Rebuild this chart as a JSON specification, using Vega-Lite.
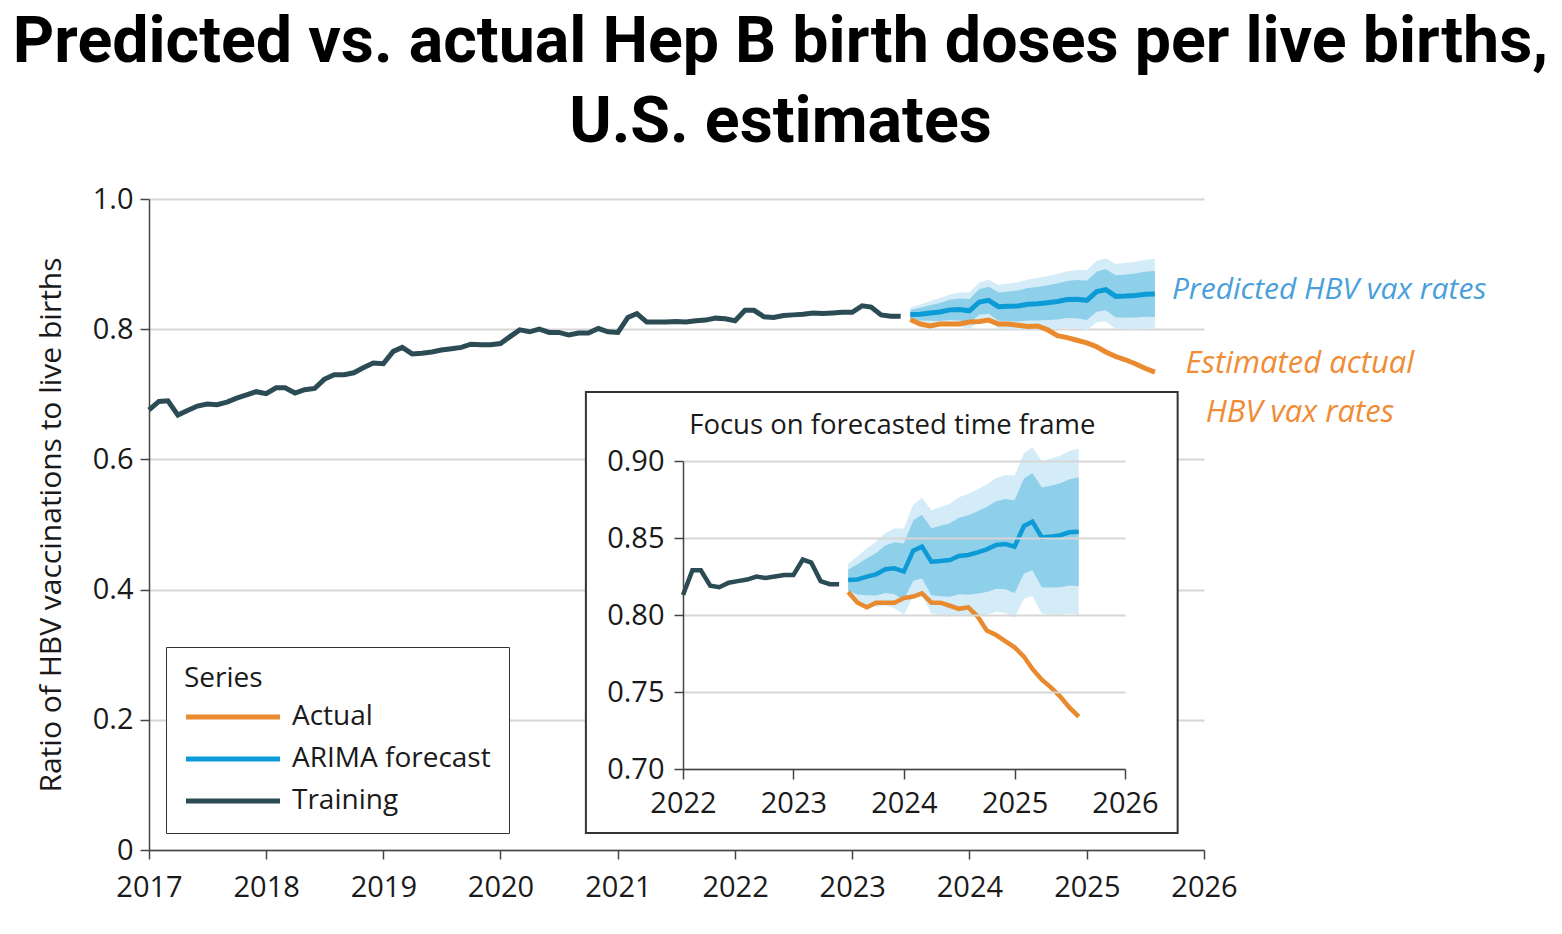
{
  "$schema": "https://vega.github.io/schema/vega-lite/v6.json",
  "width": 1055,
  "height": 651,
  "autosize": {"type": "none"},
  "padding": {"left": 149, "top": 199, "right": 358, "bottom": 84},
  "background": "white",
  "title": {
    "text": ["Predicted vs. actual Hep B birth doses per live births,", "U.S. estimates"],
    "font": "Roboto", "fontSize": 64.5, "fontWeight": "bold", "color": "#000000",
    "anchor": "middle", "frame": "group", "dx": 104, "offset": 30, "lineHeight": 80
  },
  "config": {
    "view": {"stroke": null},
    "font": "Open Sans",
    "axis": {
      "labelFont": "Open Sans", "labelFontSize": 29, "labelColor": "#1a1a1a",
      "titleFont": "Open Sans", "titleFontSize": 30, "titleFontWeight": "normal", "titleColor": "#1a1a1a",
      "domainColor": "#444444", "domainWidth": 1.5, "tickColor": "#444444", "tickWidth": 1.5, "tickSize": 9,
      "gridColor": "#d6d6d6", "gridWidth": 2
    }
  },
  "datasets": {
    "hbv": [
      {"date": "2017-01-01", "series": "Training", "value": 0.676},
      {"date": "2017-02-01", "series": "Training", "value": 0.689},
      {"date": "2017-03-01", "series": "Training", "value": 0.690},
      {"date": "2017-04-01", "series": "Training", "value": 0.668},
      {"date": "2017-05-01", "series": "Training", "value": 0.675},
      {"date": "2017-06-01", "series": "Training", "value": 0.682},
      {"date": "2017-07-01", "series": "Training", "value": 0.685},
      {"date": "2017-08-01", "series": "Training", "value": 0.684},
      {"date": "2017-09-01", "series": "Training", "value": 0.688},
      {"date": "2017-10-01", "series": "Training", "value": 0.694},
      {"date": "2017-11-01", "series": "Training", "value": 0.699},
      {"date": "2017-12-01", "series": "Training", "value": 0.704},
      {"date": "2018-01-01", "series": "Training", "value": 0.701},
      {"date": "2018-02-01", "series": "Training", "value": 0.710},
      {"date": "2018-03-01", "series": "Training", "value": 0.710},
      {"date": "2018-04-01", "series": "Training", "value": 0.702},
      {"date": "2018-05-01", "series": "Training", "value": 0.707},
      {"date": "2018-06-01", "series": "Training", "value": 0.709},
      {"date": "2018-07-01", "series": "Training", "value": 0.723},
      {"date": "2018-08-01", "series": "Training", "value": 0.730},
      {"date": "2018-09-01", "series": "Training", "value": 0.730},
      {"date": "2018-10-01", "series": "Training", "value": 0.733},
      {"date": "2018-11-01", "series": "Training", "value": 0.741},
      {"date": "2018-12-01", "series": "Training", "value": 0.748},
      {"date": "2019-01-01", "series": "Training", "value": 0.747},
      {"date": "2019-02-01", "series": "Training", "value": 0.766},
      {"date": "2019-03-01", "series": "Training", "value": 0.772},
      {"date": "2019-04-01", "series": "Training", "value": 0.762},
      {"date": "2019-05-01", "series": "Training", "value": 0.763},
      {"date": "2019-06-01", "series": "Training", "value": 0.765},
      {"date": "2019-07-01", "series": "Training", "value": 0.768},
      {"date": "2019-08-01", "series": "Training", "value": 0.770},
      {"date": "2019-09-01", "series": "Training", "value": 0.772},
      {"date": "2019-10-01", "series": "Training", "value": 0.777},
      {"date": "2019-11-01", "series": "Training", "value": 0.776},
      {"date": "2019-12-01", "series": "Training", "value": 0.776},
      {"date": "2020-01-01", "series": "Training", "value": 0.778},
      {"date": "2020-02-01", "series": "Training", "value": 0.789},
      {"date": "2020-03-01", "series": "Training", "value": 0.799},
      {"date": "2020-04-01", "series": "Training", "value": 0.796},
      {"date": "2020-05-01", "series": "Training", "value": 0.800},
      {"date": "2020-06-01", "series": "Training", "value": 0.795},
      {"date": "2020-07-01", "series": "Training", "value": 0.795},
      {"date": "2020-08-01", "series": "Training", "value": 0.791},
      {"date": "2020-09-01", "series": "Training", "value": 0.794},
      {"date": "2020-10-01", "series": "Training", "value": 0.794},
      {"date": "2020-11-01", "series": "Training", "value": 0.801},
      {"date": "2020-12-01", "series": "Training", "value": 0.796},
      {"date": "2021-01-01", "series": "Training", "value": 0.795},
      {"date": "2021-02-01", "series": "Training", "value": 0.818},
      {"date": "2021-03-01", "series": "Training", "value": 0.824},
      {"date": "2021-04-01", "series": "Training", "value": 0.811},
      {"date": "2021-05-01", "series": "Training", "value": 0.811},
      {"date": "2021-06-01", "series": "Training", "value": 0.811},
      {"date": "2021-07-01", "series": "Training", "value": 0.812},
      {"date": "2021-08-01", "series": "Training", "value": 0.811},
      {"date": "2021-09-01", "series": "Training", "value": 0.813},
      {"date": "2021-10-01", "series": "Training", "value": 0.814},
      {"date": "2021-11-01", "series": "Training", "value": 0.817},
      {"date": "2021-12-01", "series": "Training", "value": 0.816},
      {"date": "2022-01-01", "series": "Training", "value": 0.813},
      {"date": "2022-02-01", "series": "Training", "value": 0.829},
      {"date": "2022-03-01", "series": "Training", "value": 0.829},
      {"date": "2022-04-01", "series": "Training", "value": 0.819},
      {"date": "2022-05-01", "series": "Training", "value": 0.818},
      {"date": "2022-06-01", "series": "Training", "value": 0.821},
      {"date": "2022-07-01", "series": "Training", "value": 0.822},
      {"date": "2022-08-01", "series": "Training", "value": 0.823},
      {"date": "2022-09-01", "series": "Training", "value": 0.825},
      {"date": "2022-10-01", "series": "Training", "value": 0.824},
      {"date": "2022-11-01", "series": "Training", "value": 0.825},
      {"date": "2022-12-01", "series": "Training", "value": 0.826},
      {"date": "2023-01-01", "series": "Training", "value": 0.826},
      {"date": "2023-02-01", "series": "Training", "value": 0.836},
      {"date": "2023-03-01", "series": "Training", "value": 0.834},
      {"date": "2023-04-01", "series": "Training", "value": 0.822},
      {"date": "2023-05-01", "series": "Training", "value": 0.820},
      {"date": "2023-06-01", "series": "Training", "value": 0.820},
      {"date": "2023-07-01", "series": "Actual", "value": 0.815},
      {"date": "2023-08-01", "series": "Actual", "value": 0.808},
      {"date": "2023-09-01", "series": "Actual", "value": 0.805},
      {"date": "2023-10-01", "series": "Actual", "value": 0.808},
      {"date": "2023-11-01", "series": "Actual", "value": 0.808},
      {"date": "2023-12-01", "series": "Actual", "value": 0.808},
      {"date": "2024-01-01", "series": "Actual", "value": 0.811},
      {"date": "2024-02-01", "series": "Actual", "value": 0.812},
      {"date": "2024-03-01", "series": "Actual", "value": 0.814},
      {"date": "2024-04-01", "series": "Actual", "value": 0.808},
      {"date": "2024-05-01", "series": "Actual", "value": 0.808},
      {"date": "2024-06-01", "series": "Actual", "value": 0.806},
      {"date": "2024-07-01", "series": "Actual", "value": 0.804},
      {"date": "2024-08-01", "series": "Actual", "value": 0.805},
      {"date": "2024-09-01", "series": "Actual", "value": 0.799},
      {"date": "2024-10-01", "series": "Actual", "value": 0.790},
      {"date": "2024-11-01", "series": "Actual", "value": 0.787},
      {"date": "2024-12-01", "series": "Actual", "value": 0.783},
      {"date": "2025-01-01", "series": "Actual", "value": 0.779},
      {"date": "2025-02-01", "series": "Actual", "value": 0.773},
      {"date": "2025-03-01", "series": "Actual", "value": 0.765},
      {"date": "2025-04-01", "series": "Actual", "value": 0.758},
      {"date": "2025-05-01", "series": "Actual", "value": 0.753},
      {"date": "2025-06-01", "series": "Actual", "value": 0.747},
      {"date": "2025-07-01", "series": "Actual", "value": 0.740},
      {"date": "2025-08-01", "series": "Actual", "value": 0.734},
      {"date": "2023-07-01", "series": "ARIMA forecast", "value": 0.8227, "lo80": 0.8158, "hi80": 0.8296, "lo95": 0.8121, "hi95": 0.8333},
      {"date": "2023-08-01", "series": "ARIMA forecast", "value": 0.8231, "lo80": 0.8133, "hi80": 0.8329, "lo95": 0.8081, "hi95": 0.8381},
      {"date": "2023-09-01", "series": "ARIMA forecast", "value": 0.8249, "lo80": 0.8129, "hi80": 0.8369, "lo95": 0.8065, "hi95": 0.8433},
      {"date": "2023-10-01", "series": "ARIMA forecast", "value": 0.8264, "lo80": 0.8126, "hi80": 0.8402, "lo95": 0.8053, "hi95": 0.8475},
      {"date": "2023-11-01", "series": "ARIMA forecast", "value": 0.8297, "lo80": 0.8143, "hi80": 0.8451, "lo95": 0.8061, "hi95": 0.8533},
      {"date": "2023-12-01", "series": "ARIMA forecast", "value": 0.8303, "lo80": 0.8134, "hi80": 0.8472, "lo95": 0.8044, "hi95": 0.8562},
      {"date": "2024-01-01", "series": "ARIMA forecast", "value": 0.8282, "lo80": 0.8099, "hi80": 0.8465, "lo95": 0.8002, "hi95": 0.8562},
      {"date": "2024-02-01", "series": "ARIMA forecast", "value": 0.8418, "lo80": 0.8223, "hi80": 0.8613, "lo95": 0.8120, "hi95": 0.8716},
      {"date": "2024-03-01", "series": "ARIMA forecast", "value": 0.8444, "lo80": 0.8237, "hi80": 0.8651, "lo95": 0.8127, "hi95": 0.8761},
      {"date": "2024-04-01", "series": "ARIMA forecast", "value": 0.8346, "lo80": 0.8128, "hi80": 0.8564, "lo95": 0.8012, "hi95": 0.8680},
      {"date": "2024-05-01", "series": "ARIMA forecast", "value": 0.8351, "lo80": 0.8122, "hi80": 0.8580, "lo95": 0.8001, "hi95": 0.8701},
      {"date": "2024-06-01", "series": "ARIMA forecast", "value": 0.8357, "lo80": 0.8118, "hi80": 0.8596, "lo95": 0.7991, "hi95": 0.8723},
      {"date": "2024-07-01", "series": "ARIMA forecast", "value": 0.8383, "lo80": 0.8134, "hi80": 0.8632, "lo95": 0.8002, "hi95": 0.8764},
      {"date": "2024-08-01", "series": "ARIMA forecast", "value": 0.8390, "lo80": 0.8132, "hi80": 0.8648, "lo95": 0.7995, "hi95": 0.8785},
      {"date": "2024-09-01", "series": "ARIMA forecast", "value": 0.8407, "lo80": 0.8140, "hi80": 0.8674, "lo95": 0.7998, "hi95": 0.8816},
      {"date": "2024-10-01", "series": "ARIMA forecast", "value": 0.8426, "lo80": 0.8150, "hi80": 0.8702, "lo95": 0.8004, "hi95": 0.8848},
      {"date": "2024-11-01", "series": "ARIMA forecast", "value": 0.8455, "lo80": 0.8171, "hi80": 0.8739, "lo95": 0.8020, "hi95": 0.8890},
      {"date": "2024-12-01", "series": "ARIMA forecast", "value": 0.8461, "lo80": 0.8168, "hi80": 0.8754, "lo95": 0.8013, "hi95": 0.8909},
      {"date": "2025-01-01", "series": "ARIMA forecast", "value": 0.8444, "lo80": 0.8143, "hi80": 0.8745, "lo95": 0.7983, "hi95": 0.8905},
      {"date": "2025-02-01", "series": "ARIMA forecast", "value": 0.8578, "lo80": 0.8269, "hi80": 0.8887, "lo95": 0.8105, "hi95": 0.9051},
      {"date": "2025-03-01", "series": "ARIMA forecast", "value": 0.8606, "lo80": 0.8290, "hi80": 0.8922, "lo95": 0.8123, "hi95": 0.9089},
      {"date": "2025-04-01", "series": "ARIMA forecast", "value": 0.8504, "lo80": 0.8180, "hi80": 0.8828, "lo95": 0.8008, "hi95": 0.9000},
      {"date": "2025-05-01", "series": "ARIMA forecast", "value": 0.8509, "lo80": 0.8178, "hi80": 0.8840, "lo95": 0.8003, "hi95": 0.9015},
      {"date": "2025-06-01", "series": "ARIMA forecast", "value": 0.8518, "lo80": 0.8180, "hi80": 0.8856, "lo95": 0.8001, "hi95": 0.9035},
      {"date": "2025-07-01", "series": "ARIMA forecast", "value": 0.8537, "lo80": 0.8192, "hi80": 0.8882, "lo95": 0.8009, "hi95": 0.9065},
      {"date": "2025-08-01", "series": "ARIMA forecast", "value": 0.8541, "lo80": 0.8189, "hi80": 0.8893, "lo95": 0.8002, "hi95": 0.9080}
    ]
  },
  "layer": [
    {
      "data": {"name": "hbv"},
      "layer": [
        {
          "transform": [{"filter": "datum.series == 'ARIMA forecast'"}],
          "mark": {"type": "area", "color": "#d3ecf7"},
          "encoding": {
            "x": {"field": "date", "type": "temporal", "scale": {"type": "utc", "domain": [{"year": 2017, "month": 1, "date": 1, "utc": true}, {"year": 2026, "month": 1, "date": 1, "utc": true}]}, "axis": {"title": null, "grid": false, "orient": "bottom", "format": "%Y", "labelFlush": false, "labelPadding": 14, "values": [{"year": 2017, "month": 1, "date": 1, "utc": true}, {"year": 2018, "month": 1, "date": 1, "utc": true}, {"year": 2019, "month": 1, "date": 1, "utc": true}, {"year": 2020, "month": 1, "date": 1, "utc": true}, {"year": 2021, "month": 1, "date": 1, "utc": true}, {"year": 2022, "month": 1, "date": 1, "utc": true}, {"year": 2023, "month": 1, "date": 1, "utc": true}, {"year": 2024, "month": 1, "date": 1, "utc": true}, {"year": 2025, "month": 1, "date": 1, "utc": true}, {"year": 2026, "month": 1, "date": 1, "utc": true}]}},
            "y": {"field": "lo95", "type": "quantitative", "scale": {"domain": [0, 1]}, "axis": {"title": "Ratio of HBV vaccinations to live births", "orient": "left", "grid": true, "values": [0, 0.2, 0.4, 0.6, 0.8, 1.0], "labelExpr": "datum.value == 0 ? '0' : format(datum.value, '.1f')", "labelPadding": 7, "titlePadding": 26}},
            "y2": {"field": "hi95"}
          }
        },
        {
          "transform": [{"filter": "datum.series == 'ARIMA forecast'"}],
          "mark": {"type": "area", "color": "#8ecfea"},
          "encoding": {
            "x": {"field": "date", "type": "temporal", "scale": {"type": "utc", "domain": [{"year": 2017, "month": 1, "date": 1, "utc": true}, {"year": 2026, "month": 1, "date": 1, "utc": true}]}, "axis": {"title": null, "grid": false, "orient": "bottom", "format": "%Y", "labelFlush": false, "labelPadding": 14, "values": [{"year": 2017, "month": 1, "date": 1, "utc": true}, {"year": 2018, "month": 1, "date": 1, "utc": true}, {"year": 2019, "month": 1, "date": 1, "utc": true}, {"year": 2020, "month": 1, "date": 1, "utc": true}, {"year": 2021, "month": 1, "date": 1, "utc": true}, {"year": 2022, "month": 1, "date": 1, "utc": true}, {"year": 2023, "month": 1, "date": 1, "utc": true}, {"year": 2024, "month": 1, "date": 1, "utc": true}, {"year": 2025, "month": 1, "date": 1, "utc": true}, {"year": 2026, "month": 1, "date": 1, "utc": true}]}},
            "y": {"field": "lo80", "type": "quantitative", "scale": {"domain": [0, 1]}, "axis": {"title": "Ratio of HBV vaccinations to live births", "orient": "left", "grid": true, "values": [0, 0.2, 0.4, 0.6, 0.8, 1.0], "labelExpr": "datum.value == 0 ? '0' : format(datum.value, '.1f')", "labelPadding": 7, "titlePadding": 26}},
            "y2": {"field": "hi80"}
          }
        },
        {
          "mark": {"type": "line", "strokeWidth": 5},
          "encoding": {
            "x": {"field": "date", "type": "temporal", "scale": {"type": "utc", "domain": [{"year": 2017, "month": 1, "date": 1, "utc": true}, {"year": 2026, "month": 1, "date": 1, "utc": true}]}, "axis": {"title": null, "grid": false, "orient": "bottom", "format": "%Y", "labelFlush": false, "labelPadding": 14, "values": [{"year": 2017, "month": 1, "date": 1, "utc": true}, {"year": 2018, "month": 1, "date": 1, "utc": true}, {"year": 2019, "month": 1, "date": 1, "utc": true}, {"year": 2020, "month": 1, "date": 1, "utc": true}, {"year": 2021, "month": 1, "date": 1, "utc": true}, {"year": 2022, "month": 1, "date": 1, "utc": true}, {"year": 2023, "month": 1, "date": 1, "utc": true}, {"year": 2024, "month": 1, "date": 1, "utc": true}, {"year": 2025, "month": 1, "date": 1, "utc": true}, {"year": 2026, "month": 1, "date": 1, "utc": true}]}},
            "y": {"field": "value", "type": "quantitative", "scale": {"domain": [0, 1]}, "axis": {"title": "Ratio of HBV vaccinations to live births", "orient": "left", "grid": true, "values": [0, 0.2, 0.4, 0.6, 0.8, 1.0], "labelExpr": "datum.value == 0 ? '0' : format(datum.value, '.1f')", "labelPadding": 7, "titlePadding": 26}},
            "color": {"field": "series", "type": "nominal", "scale": {"domain": ["Actual", "ARIMA forecast", "Training"], "range": ["#e88a2d", "#0d9bd7", "#2b4b55"]}, "legend": {"title": "Series", "orient": "bottom-left", "offset": 17, "padding": 18, "fillColor": "white", "strokeColor": "#333333", "titleFont": "Open Sans", "titleFontSize": 28, "titleFontWeight": "normal", "titleColor": "#1a1a1a", "titlePadding": 10, "labelFont": "Open Sans", "labelFontSize": 28, "labelColor": "#1a1a1a", "labelLimit": 400, "labelOffset": 45, "symbolType": "M-4.7,0H4.7", "symbolSize": 400, "symbolStrokeWidth": 5, "symbolOffset": 35, "rowPadding": 14}}
          }
        },
        {
          "transform": [{"filter": "datum.series == 'ARIMA forecast' && time(datum.date) == utc(2025, 7, 1)"}],
          "mark": {"type": "text", "text": "Predicted HBV vax rates", "align": "left", "baseline": "alphabetic", "dx": 17, "dy": 5, "font": "Open Sans", "fontStyle": "italic", "fontSize": 30, "color": "#4a9fdb"},
          "encoding": {
            "x": {"field": "date", "type": "temporal", "scale": {"type": "utc", "domain": [{"year": 2017, "month": 1, "date": 1, "utc": true}, {"year": 2026, "month": 1, "date": 1, "utc": true}]}, "axis": {"title": null, "grid": false, "orient": "bottom", "format": "%Y", "labelFlush": false, "labelPadding": 14, "values": [{"year": 2017, "month": 1, "date": 1, "utc": true}, {"year": 2018, "month": 1, "date": 1, "utc": true}, {"year": 2019, "month": 1, "date": 1, "utc": true}, {"year": 2020, "month": 1, "date": 1, "utc": true}, {"year": 2021, "month": 1, "date": 1, "utc": true}, {"year": 2022, "month": 1, "date": 1, "utc": true}, {"year": 2023, "month": 1, "date": 1, "utc": true}, {"year": 2024, "month": 1, "date": 1, "utc": true}, {"year": 2025, "month": 1, "date": 1, "utc": true}, {"year": 2026, "month": 1, "date": 1, "utc": true}]}},
            "y": {"field": "value", "type": "quantitative", "scale": {"domain": [0, 1]}, "axis": {"title": "Ratio of HBV vaccinations to live births", "orient": "left", "grid": true, "values": [0, 0.2, 0.4, 0.6, 0.8, 1.0], "labelExpr": "datum.value == 0 ? '0' : format(datum.value, '.1f')", "labelPadding": 7, "titlePadding": 26}}
          }
        },
        {
          "transform": [{"filter": "datum.series == 'Actual' && time(datum.date) == utc(2025, 7, 1)"}],
          "mark": {"type": "text", "text": ["Estimated actual", "HBV vax rates"], "align": "center", "baseline": "top", "dx": 145, "dy": -23, "lineHeight": 49, "font": "Open Sans", "fontStyle": "italic", "fontSize": 31, "color": "#f08c36"},
          "encoding": {
            "x": {"field": "date", "type": "temporal", "scale": {"type": "utc", "domain": [{"year": 2017, "month": 1, "date": 1, "utc": true}, {"year": 2026, "month": 1, "date": 1, "utc": true}]}, "axis": {"title": null, "grid": false, "orient": "bottom", "format": "%Y", "labelFlush": false, "labelPadding": 14, "values": [{"year": 2017, "month": 1, "date": 1, "utc": true}, {"year": 2018, "month": 1, "date": 1, "utc": true}, {"year": 2019, "month": 1, "date": 1, "utc": true}, {"year": 2020, "month": 1, "date": 1, "utc": true}, {"year": 2021, "month": 1, "date": 1, "utc": true}, {"year": 2022, "month": 1, "date": 1, "utc": true}, {"year": 2023, "month": 1, "date": 1, "utc": true}, {"year": 2024, "month": 1, "date": 1, "utc": true}, {"year": 2025, "month": 1, "date": 1, "utc": true}, {"year": 2026, "month": 1, "date": 1, "utc": true}]}},
            "y": {"field": "value", "type": "quantitative", "scale": {"domain": [0, 1]}, "axis": {"title": "Ratio of HBV vaccinations to live births", "orient": "left", "grid": true, "values": [0, 0.2, 0.4, 0.6, 0.8, 1.0], "labelExpr": "datum.value == 0 ? '0' : format(datum.value, '.1f')", "labelPadding": 7, "titlePadding": 26}}
          }
        }
      ]
    },
    {
      "layer": [
        {
          "data": {"values": [{}]},
          "mark": {"type": "rect", "fill": "white", "stroke": "#333333", "strokeWidth": 2},
          "encoding": {
            "x": {"datum": {"year": 2021, "month": 2, "date": 14, "utc": true}, "type": "temporal", "scale": {"type": "utc", "domain": [{"year": 2022, "month": 1, "date": 1, "utc": true}, {"year": 2026, "month": 1, "date": 1, "utc": true}], "range": [534, 976]}, "axis": {"title": null, "grid": false, "orient": "bottom", "offset": -81, "zindex": 1, "format": "%Y", "labelFlush": false, "labelPadding": 10, "tickSize": 10, "values": [{"year": 2022, "month": 1, "date": 1, "utc": true}, {"year": 2023, "month": 1, "date": 1, "utc": true}, {"year": 2024, "month": 1, "date": 1, "utc": true}, {"year": 2025, "month": 1, "date": 1, "utc": true}, {"year": 2026, "month": 1, "date": 1, "utc": true}]}},
            "x2": {"datum": {"year": 2026, "month": 6, "date": 24, "utc": true}},
            "y": {"datum": 0.6584, "type": "quantitative", "scale": {"domain": [0.7, 0.9], "range": [570, 262]}, "axis": {"title": null, "grid": true, "orient": "left", "offset": -534, "zindex": 1, "format": ".2f", "labelPadding": 10, "values": [0.7, 0.75, 0.8, 0.85, 0.9]}},
            "y2": {"datum": 0.9448}
          }
        },
        {
          "data": {"values": [{}]},
          "mark": {"type": "text", "text": "Focus on forecasted time frame", "align": "center", "baseline": "middle", "font": "Open Sans", "fontSize": 27.5, "color": "#1a1a1a"},
          "encoding": {
            "x": {"datum": {"year": 2023, "month": 11, "date": 24, "utc": true}, "type": "temporal", "scale": {"type": "utc", "domain": [{"year": 2022, "month": 1, "date": 1, "utc": true}, {"year": 2026, "month": 1, "date": 1, "utc": true}], "range": [534, 976]}, "axis": {"title": null, "grid": false, "orient": "bottom", "offset": -81, "zindex": 1, "format": "%Y", "labelFlush": false, "labelPadding": 10, "tickSize": 10, "values": [{"year": 2022, "month": 1, "date": 1, "utc": true}, {"year": 2023, "month": 1, "date": 1, "utc": true}, {"year": 2024, "month": 1, "date": 1, "utc": true}, {"year": 2025, "month": 1, "date": 1, "utc": true}, {"year": 2026, "month": 1, "date": 1, "utc": true}]}},
            "y": {"datum": 0.923, "type": "quantitative", "scale": {"domain": [0.7, 0.9], "range": [570, 262]}, "axis": {"title": null, "grid": true, "orient": "left", "offset": -534, "zindex": 1, "format": ".2f", "labelPadding": 10, "values": [0.7, 0.75, 0.8, 0.85, 0.9]}}
          }
        },
        {
          "data": {"name": "hbv"},
          "transform": [{"filter": "datum.series == 'ARIMA forecast'"}],
          "mark": {"type": "area", "color": "#d3ecf7"},
          "encoding": {
            "x": {"field": "date", "type": "temporal", "scale": {"type": "utc", "domain": [{"year": 2022, "month": 1, "date": 1, "utc": true}, {"year": 2026, "month": 1, "date": 1, "utc": true}], "range": [534, 976]}, "axis": {"title": null, "grid": false, "orient": "bottom", "offset": -81, "zindex": 1, "format": "%Y", "labelFlush": false, "labelPadding": 10, "tickSize": 10, "values": [{"year": 2022, "month": 1, "date": 1, "utc": true}, {"year": 2023, "month": 1, "date": 1, "utc": true}, {"year": 2024, "month": 1, "date": 1, "utc": true}, {"year": 2025, "month": 1, "date": 1, "utc": true}, {"year": 2026, "month": 1, "date": 1, "utc": true}]}},
            "y": {"field": "lo95", "type": "quantitative", "scale": {"domain": [0.7, 0.9], "range": [570, 262]}, "axis": {"title": null, "grid": true, "orient": "left", "offset": -534, "zindex": 1, "format": ".2f", "labelPadding": 10, "values": [0.7, 0.75, 0.8, 0.85, 0.9]}},
            "y2": {"field": "hi95"}
          }
        },
        {
          "data": {"name": "hbv"},
          "transform": [{"filter": "datum.series == 'ARIMA forecast'"}],
          "mark": {"type": "area", "color": "#8ecfea"},
          "encoding": {
            "x": {"field": "date", "type": "temporal", "scale": {"type": "utc", "domain": [{"year": 2022, "month": 1, "date": 1, "utc": true}, {"year": 2026, "month": 1, "date": 1, "utc": true}], "range": [534, 976]}, "axis": {"title": null, "grid": false, "orient": "bottom", "offset": -81, "zindex": 1, "format": "%Y", "labelFlush": false, "labelPadding": 10, "tickSize": 10, "values": [{"year": 2022, "month": 1, "date": 1, "utc": true}, {"year": 2023, "month": 1, "date": 1, "utc": true}, {"year": 2024, "month": 1, "date": 1, "utc": true}, {"year": 2025, "month": 1, "date": 1, "utc": true}, {"year": 2026, "month": 1, "date": 1, "utc": true}]}},
            "y": {"field": "lo80", "type": "quantitative", "scale": {"domain": [0.7, 0.9], "range": [570, 262]}, "axis": {"title": null, "grid": true, "orient": "left", "offset": -534, "zindex": 1, "format": ".2f", "labelPadding": 10, "values": [0.7, 0.75, 0.8, 0.85, 0.9]}},
            "y2": {"field": "hi80"}
          }
        },
        {
          "data": {"name": "hbv"},
          "transform": [{"filter": "time(datum.date) >= utc(2022, 0, 1)"}],
          "mark": {"type": "line", "strokeWidth": 4.5},
          "encoding": {
            "x": {"field": "date", "type": "temporal", "scale": {"type": "utc", "domain": [{"year": 2022, "month": 1, "date": 1, "utc": true}, {"year": 2026, "month": 1, "date": 1, "utc": true}], "range": [534, 976]}, "axis": {"title": null, "grid": false, "orient": "bottom", "offset": -81, "zindex": 1, "format": "%Y", "labelFlush": false, "labelPadding": 10, "tickSize": 10, "values": [{"year": 2022, "month": 1, "date": 1, "utc": true}, {"year": 2023, "month": 1, "date": 1, "utc": true}, {"year": 2024, "month": 1, "date": 1, "utc": true}, {"year": 2025, "month": 1, "date": 1, "utc": true}, {"year": 2026, "month": 1, "date": 1, "utc": true}]}},
            "y": {"field": "value", "type": "quantitative", "scale": {"domain": [0.7, 0.9], "range": [570, 262]}, "axis": {"title": null, "grid": true, "orient": "left", "offset": -534, "zindex": 1, "format": ".2f", "labelPadding": 10, "values": [0.7, 0.75, 0.8, 0.85, 0.9]}},
            "color": {"field": "series", "type": "nominal", "scale": {"domain": ["Actual", "ARIMA forecast", "Training"], "range": ["#e88a2d", "#0d9bd7", "#2b4b55"]}, "legend": {"title": "Series", "orient": "bottom-left", "offset": 17, "padding": 18, "fillColor": "white", "strokeColor": "#333333", "titleFont": "Open Sans", "titleFontSize": 28, "titleFontWeight": "normal", "titleColor": "#1a1a1a", "titlePadding": 10, "labelFont": "Open Sans", "labelFontSize": 28, "labelColor": "#1a1a1a", "labelLimit": 400, "labelOffset": 45, "symbolType": "M-4.7,0H4.7", "symbolSize": 400, "symbolStrokeWidth": 5, "symbolOffset": 35, "rowPadding": 14}}
          }
        }
      ]
    }
  ],
  "resolve": {"scale": {"x": "independent", "y": "independent"}, "axis": {"x": "independent", "y": "independent"}}
}
